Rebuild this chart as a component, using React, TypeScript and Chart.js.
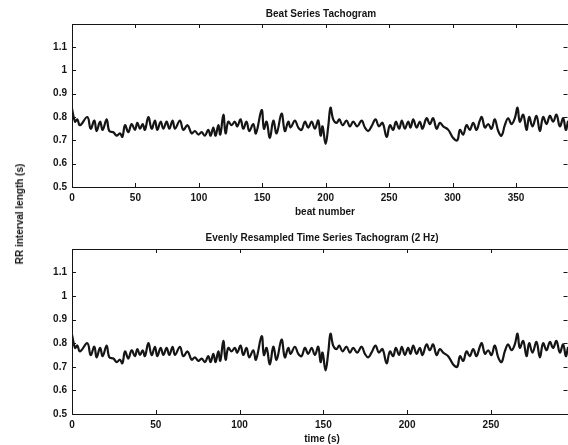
import { useEffect, useRef } from 'react';
import { Chart, registerables } from 'chart.js';

Chart.register(...registerables);

// Beat index (top panel x) of read points along the tachogram
const BEAT_X = [
  0, 2.4, 4.2, 6.3, 12.1, 14.7, 17.6, 19.4, 22.1, 24.2, 27.3, 29.4, 32.6, 35.2, 37.8, 39.7,
  41.8, 44.4, 47.0, 49.6, 51.5, 53.6, 55.7, 57.5, 60.2, 62.8, 65.4, 67.2, 69.9, 72.0, 74.6,
  76.7, 79.3, 81.2, 85.1, 87.7, 91.1, 94.3, 96.9, 99.6, 102.2, 104.8, 107.4, 109.3, 111.4,
  113.2, 115.3, 116.9, 119.3, 121.1, 123.2, 125.8, 128.4, 130.3, 132.9, 135.0, 137.6, 139.7,
  142.9, 145.0, 149.5, 151.3, 153.4, 156.0, 158.7, 161.3, 165.2, 167.8, 170.5, 172.3, 175.7,
  178.4, 181.0, 183.6, 186.2, 188.9, 191.5, 194.1, 196.0, 197.5, 199.9, 202.0, 203.8, 205.9,
  208.6, 210.7, 213.3, 216.4, 219.1, 221.7, 224.8, 228.3, 230.9, 233.5, 236.1, 239.3, 241.9,
  244.8, 248.0, 250.6, 253.2, 255.3, 257.9, 260.0, 262.4, 265.0, 266.9, 269.0, 271.6, 274.2,
  276.3, 279.5, 282.1, 284.7, 287.4, 290.0, 292.6, 296.6, 300.5, 303.7, 305.8, 308.4, 311.0,
  313.6, 316.3, 318.9, 321.5, 323.1, 325.5, 328.1, 330.7, 333.3, 336.0, 338.6, 341.2, 343.8,
  346.5, 349.1, 351.2, 353.0, 355.7, 358.3, 360.4, 363.0, 366.2, 368.8, 371.4, 374.1, 376.7,
  379.3, 381.9, 384.6, 387.2, 389.3, 390.9,
];

// RR interval length (s) at those points
const RR_VALUES = [
  0.836, 0.78, 0.79, 0.765, 0.80, 0.75, 0.785, 0.74, 0.78, 0.745, 0.79, 0.74, 0.735, 0.72, 0.73, 0.715,
  0.765, 0.735, 0.77, 0.745, 0.775, 0.75, 0.77, 0.745, 0.80, 0.75, 0.785, 0.745, 0.78, 0.75, 0.78,
  0.75, 0.785, 0.75, 0.785, 0.745, 0.765, 0.73, 0.74, 0.725, 0.735, 0.72, 0.745, 0.72, 0.755,
  0.72, 0.765, 0.725, 0.81, 0.73, 0.78, 0.765, 0.78, 0.76, 0.79, 0.75, 0.78, 0.74,
  0.77, 0.73, 0.83, 0.75, 0.78, 0.71, 0.785, 0.73, 0.815, 0.74, 0.78, 0.755, 0.785,
  0.755, 0.745, 0.78, 0.755, 0.78, 0.75, 0.785, 0.72, 0.76, 0.685, 0.76, 0.84, 0.79,
  0.775, 0.79, 0.765, 0.785, 0.76, 0.78, 0.76, 0.785, 0.755, 0.74, 0.76, 0.79, 0.76,
  0.775, 0.715, 0.765, 0.745, 0.78, 0.75, 0.785, 0.75, 0.78, 0.755, 0.79, 0.755, 0.78,
  0.75, 0.795, 0.77, 0.795, 0.75, 0.775, 0.76, 0.745, 0.71, 0.70, 0.745, 0.725, 0.765,
  0.745, 0.775, 0.745, 0.785, 0.80, 0.755, 0.77, 0.75, 0.79, 0.74, 0.72, 0.765, 0.795,
  0.77, 0.795, 0.84, 0.78, 0.81, 0.745, 0.80, 0.76, 0.805, 0.74, 0.80, 0.77, 0.805,
  0.78, 0.81, 0.76, 0.795, 0.745, 0.78,
];

// mean RR interval (s) used to place the beats on the time axis of the resampled series
const MEAN_RR = 0.757;
const TIME_X = BEAT_X.map((b) => b * MEAN_RR);

const TOP_X_MAX = 391;
const BOTTOM_X_MAX = 296;
const Y_MIN = 0.5;
const Y_MAX = 1.199;
const X_STEP = 50;
const Y_STEP = 0.1;

const TOP_TITLE = 'Beat Series Tachogram';
const TOP_XLABEL = 'beat number';
const BOTTOM_TITLE = 'Evenly Resampled Time Series Tachogram (2 Hz)';
const BOTTOM_XLABEL = 'time (s)';
const Y_LABEL = 'RR interval length (s)';

const FONT = '"Liberation Sans", Arial, Helvetica, sans-serif';
const INK = '#151515';

type Opts = {
  xs: number[];
  ys: number[];
  xMax: number;
  padTop: number;
  xAxisHeight: number;
  title: string;
  titleX: number;
  titleY: number;
  xLabel: string;
  xLabelX: number;
  xLabelY: number;
};

function buildConfig(o: Opts): any {
  const boxPlugin = {
    id: 'boxTicks',
    afterDraw(chart: any) {
      const ctx = chart.ctx;
      const a = chart.chartArea;
      const xs = chart.scales.x;
      const ys = chart.scales.y;
      const L = 4;
      ctx.save();
      ctx.strokeStyle = INK;
      ctx.lineWidth = 1;
      // top border
      ctx.beginPath();
      ctx.moveTo(a.left, a.top + 0.5);
      ctx.lineTo(a.right, a.top + 0.5);
      ctx.stroke();
      // inward ticks
      ctx.beginPath();
      xs.ticks.forEach((t: any) => {
        const p = Math.round(xs.getPixelForValue(t.value)) + 0.5;
        ctx.moveTo(p, a.bottom);
        ctx.lineTo(p, a.bottom - L);
        ctx.moveTo(p, a.top);
        ctx.lineTo(p, a.top + L);
      });
      ys.ticks.forEach((t: any) => {
        const p = Math.round(ys.getPixelForValue(t.value)) + 0.5;
        ctx.moveTo(a.left, p);
        ctx.lineTo(a.left + L, p);
        ctx.moveTo(a.right - 0.5, p);
        ctx.lineTo(a.right - 0.5 - L, p);
      });
      ctx.stroke();
      // titles
      ctx.fillStyle = INK;
      ctx.font = `bold 10px ${FONT}`;
      ctx.textAlign = 'center';
      ctx.textBaseline = 'alphabetic';
      ctx.fillText(o.title, o.titleX, o.titleY);
      ctx.fillText(o.xLabel, o.xLabelX, o.xLabelY);
      ctx.restore();
    },
  };

  const tickFont = { family: FONT, size: 10, weight: 'bold' as const };

  return {
    type: 'line',
    data: {
      datasets: [
        {
          data: o.xs.map((x, i) => ({ x, y: o.ys[i] })),
          borderColor: INK,
          borderWidth: 2.2,
          pointRadius: 0,
          tension: 0.4,
          fill: false,
          borderJoinStyle: 'round',
          borderCapStyle: 'round',
        },
      ],
    },
    options: {
      animation: false,
      responsive: false,
      layout: { padding: { top: o.padTop, left: 0, right: 0, bottom: 0 } },
      plugins: { legend: { display: false }, tooltip: { enabled: false }, title: { display: false } },
      scales: {
        x: {
          type: 'linear',
          min: 0,
          max: o.xMax,
          grid: { display: false, drawTicks: false },
          border: { display: true, color: INK, width: 1 },
          ticks: {
            stepSize: X_STEP,
            includeBounds: false,
            autoSkip: false,
            maxRotation: 0,
            padding: 5,
            color: INK,
            font: tickFont,
          },
          afterFit: (s: any) => {
            s.height = o.xAxisHeight;
          },
        },
        y: {
          type: 'linear',
          min: Y_MIN,
          max: Y_MAX,
          grid: { display: false, drawTicks: false },
          border: { display: true, color: INK, width: 1 },
          ticks: {
            stepSize: Y_STEP,
            includeBounds: false,
            padding: 5,
            color: INK,
            font: tickFont,
            callback: (v: any) => String(Math.round(Number(v) * 10) / 10),
          },
          afterFit: (s: any) => {
            s.width = 72;
          },
        },
      },
    },
    plugins: [boxPlugin],
  };
}

export default function App() {
  const topRef = useRef<HTMLCanvasElement | null>(null);
  const botRef = useRef<HTMLCanvasElement | null>(null);

  useEffect(() => {
    const top = new Chart(
      topRef.current as HTMLCanvasElement,
      buildConfig({
        xs: BEAT_X,
        ys: RR_VALUES,
        xMax: TOP_X_MAX,
        padTop: 24,
        xAxisHeight: 35,
        title: TOP_TITLE,
        titleX: 321,
        titleY: 16.5,
        xLabel: TOP_XLABEL,
        xLabelX: 325,
        xLabelY: 215,
      })
    );
    const bot = new Chart(
      botRef.current as HTMLCanvasElement,
      buildConfig({
        xs: TIME_X,
        ys: RR_VALUES,
        xMax: BOTTOM_X_MAX,
        padTop: 27,
        xAxisHeight: 31,
        title: BOTTOM_TITLE,
        titleX: 322,
        titleY: 18.7,
        xLabel: BOTTOM_XLABEL,
        xLabelX: 322,
        xLabelY: 220,
      })
    );
    return () => {
      top.destroy();
      bot.destroy();
    };
  }, []);

  return (
    <div
      style={{
        position: 'absolute',
        left: 0,
        top: 0,
        width: 568,
        height: 445,
        background: '#fff',
        overflow: 'hidden',
      }}
    >
      <canvas ref={topRef} width={568} height={222} style={{ position: 'absolute', left: 0, top: 0 }} />
      <canvas ref={botRef} width={568} height={223} style={{ position: 'absolute', left: 0, top: 222 }} />
      <div
        style={{
          position: 'absolute',
          left: 20,
          top: 214,
          transform: 'translate(-50%, -50%) rotate(-90deg)',
          whiteSpace: 'nowrap',
          font: `bold 10px ${FONT}`,
          color: INK,
          lineHeight: '12px',
        }}
      >
        {Y_LABEL}
      </div>
    </div>
  );
}
